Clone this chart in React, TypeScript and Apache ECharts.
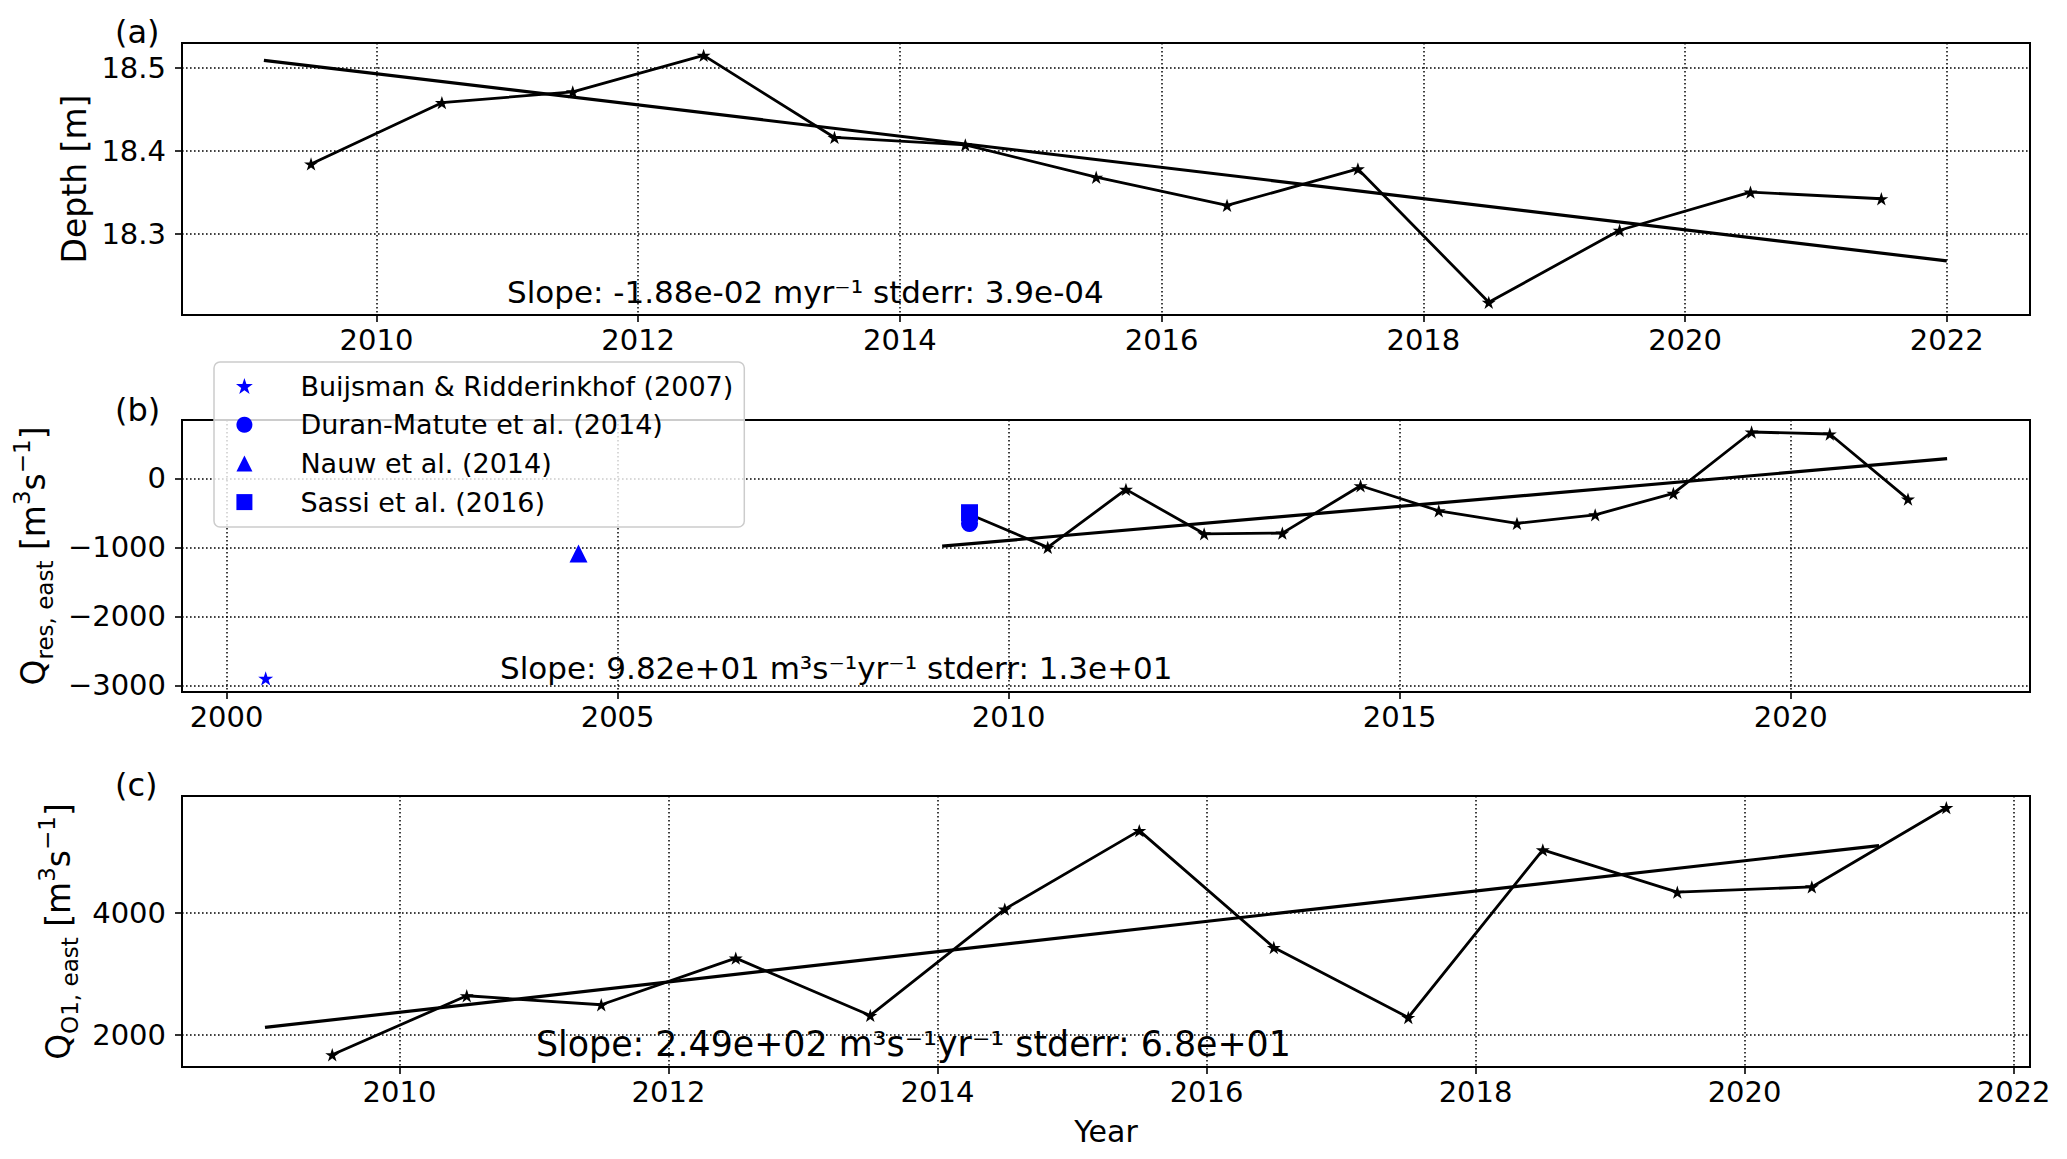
import React, { useEffect, useRef } from 'react';
import * as echarts from 'echarts';

// ---------- data ----------
const yearsA = [2009.5, 2010.5, 2011.5, 2012.5, 2013.5, 2014.5, 2015.5, 2016.5, 2017.5, 2018.5, 2019.5, 2020.5, 2021.5];
const depth = [18.384, 18.458, 18.471, 18.515, 18.416, 18.407, 18.368, 18.334, 18.378, 18.217, 18.304, 18.35, 18.342];
const depthTrendX = [2009.14, 2022];
const depthTrendY = [18.509, 18.267];

const yearsB = [2009.5, 2010.5, 2011.5, 2012.5, 2013.5, 2014.5, 2015.5, 2016.5, 2017.5, 2018.5, 2019.5, 2020.5, 2021.5];
const qres = [-520, -1001, -160, -804, -794, -107, -470, -653, -528, -218, 672, 643, -300];
const qresTrendX = [2009.15, 2022];
const qresTrendY = [-983, 285];

const litNames = ['Buijsman & Ridderinkhof (2007)', 'Duran-Matute et al. (2014)', 'Nauw et al. (2014)', 'Sassi et al. (2016)'];
const litYears = [2000.5, 2009.5, 2004.5, 2009.5];
const litValues = [-2900, -655, -1090, -498];

const yearsC = [2009.5, 2010.5, 2011.5, 2012.5, 2013.5, 2014.5, 2015.5, 2016.5, 2017.5, 2018.5, 2019.5, 2020.5, 2021.5];
const qo1 = [1671, 2641, 2493, 3260, 2317, 4066, 5358, 3435, 2284, 5041, 4345, 4432, 5736];
const qo1TrendX = [2009, 2021];
const qo1TrendY = [2120, 5112];

const xTicksA = [2010, 2012, 2014, 2016, 2018, 2020, 2022];
const xTicksB = [2000, 2005, 2010, 2015, 2020];
const xTicksC = [2010, 2012, 2014, 2016, 2018, 2020, 2022];
const yTicksA = [18.3, 18.4, 18.5];
const yTicksB = [-3000, -2000, -1000, 0];
const yTicksC = [2000, 4000];

const xRangeA = [2008.514, 2022.636];
const xRangeB = [1999.43, 2023.06];
const xRangeC = [2008.383, 2022.122];
const yRangeA = [18.2017, 18.53];
const yRangeB = [-3097, 846];
const yRangeC = [1469, 5928];

// ---------- helpers ----------
const FONT = 'DejaVu Sans';
const STAR = 'path://M50 0L61.23 34.55L97.55 34.55L68.17 55.9L79.39 90.45L50 69.1L20.61 90.45L31.83 55.9L2.45 34.55L38.77 34.55Z';
const TRIANGLE = 'path://M50 0L100 100L0 100Z';
const SQUARE = 'path://M0 0L100 0L100 100L0 100Z';
const litSymbols = [STAR, 'circle', TRIANGLE, SQUARE];
const litSizes = [15, 17, 18, 17];

const zip = (xs: number[], ys: number[]) => xs.map((x, i) => [x, ys[i]]);

const gridLine = { show: true, lineStyle: { color: '#000', width: 1.5, type: [1.6, 2.4] as any } };

function xAxis(gridIndex: number, range: number[], ticks: number[], interval: number, name?: string) {
  return {
    type: 'value',
    gridIndex,
    min: range[0],
    max: range[1],
    minInterval: interval,
    maxInterval: interval,
    name: name || '',
    nameLocation: 'middle',
    nameGap: 49,
    nameTextStyle: { fontFamily: FONT, fontSize: 30, color: '#000' },
    axisLine: { show: true, onZero: false, lineStyle: { color: '#000', width: 2 } },
    axisTick: { show: true, inside: false, length: 7, customValues: ticks, lineStyle: { color: '#000', width: 1.6 } },
    axisLabel: {
      customValues: ticks,
      margin: 10,
      fontSize: 29,
      fontFamily: FONT,
      color: '#000',
      formatter: (v: number) => String(Math.round(v)),
    },
    splitLine: gridLine,
  };
}

function yAxis(gridIndex: number, range: number[], ticks: number[], interval: number, name: string, nameGap: number, rich: any, fmt: (v: number) => string) {
  return {
    type: 'value',
    gridIndex,
    min: range[0],
    max: range[1],
    minInterval: interval,
    maxInterval: interval,
    name,
    nameLocation: 'middle',
    nameRotate: 90,
    nameGap,
    nameTextStyle: { fontFamily: FONT, fontSize: 33, color: '#000', rich },
    axisLine: { show: true, onZero: false, lineStyle: { color: '#000', width: 2 } },
    axisTick: { show: true, inside: false, length: 7, customValues: ticks, lineStyle: { color: '#000', width: 1.6 } },
    axisLabel: { customValues: ticks, margin: 16, fontSize: 29, fontFamily: FONT, color: '#000', formatter: fmt },
    splitLine: gridLine,
  };
}

const unitRich = {
  q: { fontFamily: FONT, fontSize: 33, lineHeight: 46, color: '#000' },
  sub: { fontFamily: FONT, fontSize: 23, lineHeight: 30, verticalAlign: 'bottom', color: '#000' },
  sup: { fontFamily: FONT, fontSize: 23, lineHeight: 26, verticalAlign: 'top', color: '#000' },
};

function textEl(x: number, y: number, text: string, size = 29) {
  return {
    type: 'text',
    x,
    y,
    z: 100,
    style: { text, fontFamily: FONT, fontSize: size, fill: '#000', align: 'left', verticalAlign: 'middle' },
  };
}

export default function App() {
  const ref = useRef<HTMLDivElement>(null);

  useEffect(() => {
    if (!ref.current) return;
    const chart = echarts.init(ref.current, null, { renderer: 'svg' });

    const lineStyleData = { color: '#000', width: 2.8 };
    const lineStyleTrend = { color: '#000', width: 3.2 };

    const series: any[] = [
      {
        type: 'line', xAxisIndex: 0, yAxisIndex: 0, data: zip(yearsA, depth),
        symbol: STAR, symbolSize: 14, symbolKeepAspect: true,
        lineStyle: lineStyleData, itemStyle: { color: '#000' }, z: 3,
      },
      {
        type: 'line', xAxisIndex: 0, yAxisIndex: 0, data: zip(depthTrendX, depthTrendY),
        symbol: 'none', lineStyle: lineStyleTrend, z: 3,
      },
      {
        type: 'line', xAxisIndex: 1, yAxisIndex: 1, data: zip(yearsB, qres),
        symbol: STAR, symbolSize: 14, symbolKeepAspect: true,
        lineStyle: lineStyleData, itemStyle: { color: '#000' }, z: 3,
      },
      {
        type: 'line', xAxisIndex: 1, yAxisIndex: 1, data: zip(qresTrendX, qresTrendY),
        symbol: 'none', lineStyle: lineStyleTrend, z: 3,
      },
      {
        type: 'line', xAxisIndex: 2, yAxisIndex: 2, data: zip(yearsC, qo1),
        symbol: STAR, symbolSize: 14, symbolKeepAspect: true,
        lineStyle: lineStyleData, itemStyle: { color: '#000' }, z: 3,
      },
      {
        type: 'line', xAxisIndex: 2, yAxisIndex: 2, data: zip(qo1TrendX, qo1TrendY),
        symbol: 'none', lineStyle: lineStyleTrend, z: 3,
      },
    ];

    litNames.forEach((name, i) => {
      series.push({
        type: 'scatter', name, xAxisIndex: 1, yAxisIndex: 1,
        data: [[litYears[i], litValues[i]]],
        symbol: litSymbols[i], symbolSize: litSizes[i], symbolKeepAspect: true,
        itemStyle: { color: '#0000ff', opacity: 1 }, z: 5,
      });
    });

    chart.setOption({
      animation: false,
      backgroundColor: '#fff',
      textStyle: { fontFamily: FONT },
      grid: [
        { left: 182, top: 43, width: 1848, height: 272, show: true, borderColor: '#000', borderWidth: 2, backgroundColor: 'transparent' },
        { left: 182, top: 420, width: 1848, height: 272, show: true, borderColor: '#000', borderWidth: 2, backgroundColor: 'transparent' },
        { left: 182, top: 796, width: 1848, height: 271, show: true, borderColor: '#000', borderWidth: 2, backgroundColor: 'transparent' },
      ],
      xAxis: [
        xAxis(0, xRangeA, xTicksA, 2),
        xAxis(1, xRangeB, xTicksB, 5),
        xAxis(2, xRangeC, xTicksC, 2, 'Year'),
      ],
      yAxis: [
        yAxis(0, yRangeA, yTicksA, 0.1, 'Depth [m]', 88, unitRich, (v) => v.toFixed(1)),
        yAxis(1, yRangeB, yTicksB, 1000, '{q|Q}{sub|res, east}{q| [m}{sup|3}{q|s}{sup|−1}{q|]}', 124, unitRich,
          (v) => (v < 0 ? '−' + Math.abs(Math.round(v)) : String(Math.round(v)))),
        yAxis(2, yRangeC, yTicksC, 2000, '{q|Q}{sub|O1, east}{q| [m}{sup|3}{q|s}{sup|−1}{q|]}', 96, unitRich,
          (v) => String(Math.round(v))),
      ],
      legend: {
        data: litNames,
        orient: 'vertical',
        left: 214,
        top: 362,
        padding: [9, 11, 10, 22],
        itemWidth: 30,
        itemHeight: 16,
        itemGap: 8.7,
        selectedMode: false,
        symbolKeepAspect: true,
        backgroundColor: 'rgba(255,255,255,0.8)',
        borderColor: '#cccccc',
        borderWidth: 1.5,
        borderRadius: 6,
        textStyle: { fontFamily: FONT, fontSize: 27, lineHeight: 30, color: '#000', padding: [0, 0, 0, 36] },
        z: 10,
      },
      graphic: [
        textEl(115, 32, '(a)', 32),
        textEl(115, 410, '(b)', 32),
        textEl(115, 785, '(c)', 32),
        textEl(507, 292, 'Slope: -1.88e-02 myr⁻¹ stderr: 3.9e-04', 31),
        textEl(500, 668, 'Slope: 9.82e+01 m³s⁻¹yr⁻¹ stderr: 1.3e+01', 31),
        textEl(536, 1044, 'Slope: 2.49e+02 m³s⁻¹yr⁻¹ stderr: 6.8e+01', 34.8),
      ],
      series,
    });

    return () => chart.dispose();
  }, []);

  return <div ref={ref} style={{ position: 'absolute', left: 0, top: 0, width: 2067, height: 1159 }} />;
}
